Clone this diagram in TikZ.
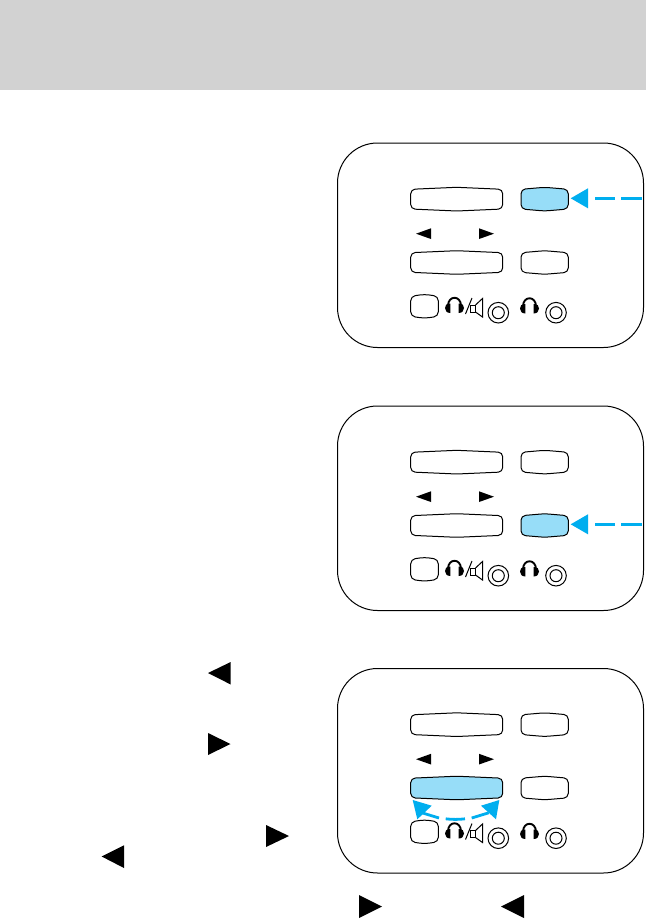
\documentclass[tikz,border=0pt]{standalone}
\definecolor{hdr}{HTML}{D2D2D2}
\definecolor{cue}{HTML}{00AEEF}
\definecolor{lit}{HTML}{97DDF8}
\tikzset{
  px/.style={x=1pt,y=-1pt},
  panelbox/.style={draw=black,line width=1pt,fill=white,rounded corners=40pt},
  btnshape/.style={draw=black,line width=1pt,rounded corners=4.5pt,fill=white},
  cueline/.style={draw=cue,line width=2.8pt},
  cuehead/.style={fill=cue,draw=none},
  tri/.style={fill=black,draw=none}
}
% \btnx{x1}{y1}{x2}{y2}{fill}
\newcommand{\btnx}[5]{%
  \pgfmathsetmacro{\xm}{(#1+#3)/2}%
  \pgfmathsetmacro{\ya}{#2+2}%
  \pgfmathsetmacro{\yb}{#4-2}%
  \draw[btnshape,fill=#5] (#1,\ya) -- (\xm,#2) -- (#3,\ya) -- (#3,\yb) -- (\xm,#4) -- (#1,\yb) -- cycle;}
% \phones{left x}{top y}
\newcommand{\phones}[2]{%
  \begin{scope}[shift={(#1,#2)}]
    \draw[line width=1.9pt] (3,9) .. controls (3,-2) and (16,-2) .. (16,9);
    \fill (5.4,6.5) .. controls (1.2,6.5) and (0,8.5) .. (0,11) .. controls (0,14) and (2,16) .. (5.4,16) -- cycle;
    \fill (13.6,6.5) .. controls (17.8,6.5) and (19,8.5) .. (19,11) .. controls (19,14) and (17,16) .. (13.6,16) -- cycle;
  \end{scope}}
\newcommand{\ringx}[2]{%
  \draw[line width=1pt] (#1,#2) circle[radius=10.3];
  \draw[line width=1pt] (#1,#2) circle[radius=6];}
\newcommand{\panelx}[4]{% offset, fill top-right, fill lower-right, fill lower-left
  \begin{scope}[yshift=-#1pt]
    \draw[panelbox] (337.5,143) rectangle (643.5,347.5);
    \btnx{410.7}{187.3}{502.7}{211}{white}
    \btnx{521}{187.3}{568.3}{211}{#2}
    \btnx{410.7}{250.7}{502.7}{274.3}{#4}
    \btnx{521}{250.7}{568.3}{274.3}{#3}
    \btnx{410.7}{294.3}{438.3}{318.3}{white}
    \fill[tri] (416,233.7) -- (431,228.3) -- (431,239) -- cycle;
    \fill[tri] (494,233.7) -- (479,228.3) -- (479,239) -- cycle;
    \phones{445}{297}
    \draw[line width=1pt] (465.5,314) -- (472,298);
    \draw[line width=1pt] (470.5,305) rectangle (475.5,312);
    \draw[line width=1pt] (475.5,305) -- (482.5,298.5) -- (482.5,317) -- (475.5,312);
    \ringx{498.3}{312.7}
    \phones{520}{297.5}
    \ringx{556}{312.7}
  \end{scope}}
\newcommand{\sidecue}[1]{% y of arrow
  \coordinate (from) at (642,#1);
  \coordinate (to) at (588,#1);
  \draw[cueline,dash pattern=on 21pt off 6.5pt] (from) -- (to);
  \fill[white] (588,#1-9) rectangle (595,#1+9);
  \fill[cuehead] (570.7,#1) -- (588,#1-10) -- (588,#1+10) -- cycle;}
\begin{document}
\begin{tikzpicture}[px]
\useasboundingbox (0,0) rectangle (646,919);
\fill[white] (0,0) rectangle (646,919);
\fill[hdr] (0,0) rectangle (646,90);
% panels
\panelx{0}{lit}{white}{white}
\panelx{263}{white}{lit}{white}
\panelx{525.5}{white}{white}{lit}
% cues
\sidecue{198.3}
\sidecue{524.3}
\coordinate (la) at (422,812.8);
\coordinate (lb) at (439,818);
\coordinate (ma) at (445.7,818.8);
\coordinate (mb) at (465,818.8);
\coordinate (ra) at (471.7,818);
\coordinate (rb) at (488.7,812.8);
\draw[cueline] (la) -- (lb);
\draw[cueline] (ma) .. controls (452,819.6) and (459,819.6) .. (mb);
\draw[cueline] (ra) -- (rb);
\fill[cuehead] (412.7,800) -- (417.3,819.3) -- (431.7,805.7) -- cycle;
\fill[cuehead] (499.3,800) -- (496,819.3) -- (481,805.7) -- cycle;
% text triangles
\fill[tri] (208,673) -- (230.7,662) -- (230.7,684.5) -- cycle;
\fill[tri] (230.5,744) -- (208,733) -- (208,755) -- cycle;
\fill[tri] (289,836) -- (266,825) -- (266,847) -- cycle;
\fill[tri] (101.7,856.5) -- (124,845.3) -- (124,868) -- cycle;
\fill[tri] (382,906.5) -- (359,895) -- (359,918) -- cycle;
\fill[tri] (501,906.5) -- (524,895) -- (524,918) -- cycle;
\end{tikzpicture}
\end{document}
